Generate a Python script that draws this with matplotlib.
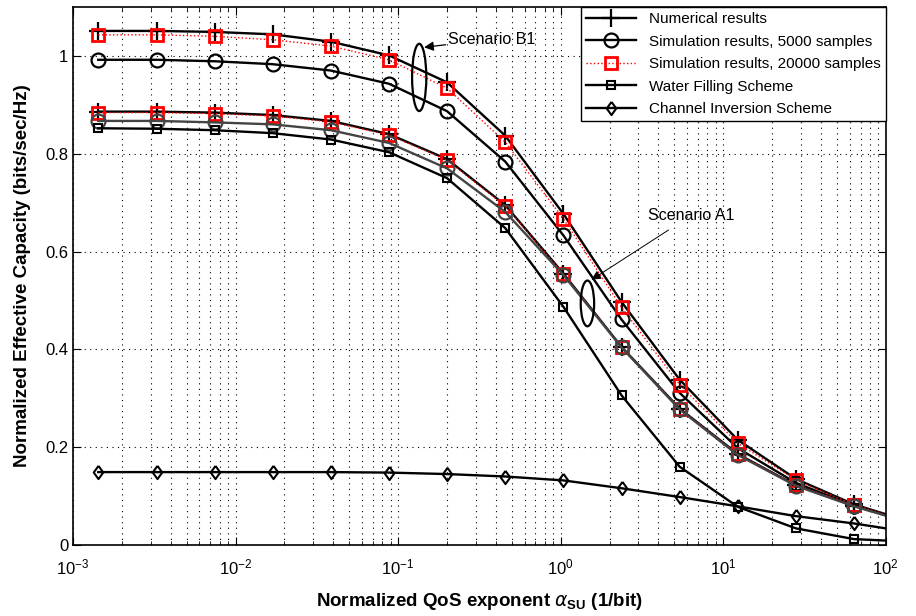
import numpy as np
import matplotlib
matplotlib.use("Agg")
import matplotlib.pyplot as plt
from matplotlib.patches import Ellipse
from matplotlib.ticker import LogLocator, NullFormatter, FixedLocator

plt.rcParams['font.family'] = ['Liberation Sans', 'DejaVu Sans']
plt.rcParams['mathtext.fontset'] = 'custom'
plt.rcParams['mathtext.rm'] = 'Liberation Sans'
plt.rcParams['mathtext.bf'] = 'Liberation Sans:bold'

# QoS exponent values (markers) + end point at 100
alpha = [0.00143, 0.00327, 0.00743, 0.0169, 0.0386, 0.0879, 0.200,
         0.456, 1.04, 2.37, 5.40, 12.3, 28.0, 63.8, 100.0]

b1_num = [1.051, 1.051, 1.049, 1.044, 1.029, 1.001, 0.946, 0.837,
          0.677, 0.497, 0.338, 0.215, 0.135, 0.083, 0.063]
b1_5000 = [0.992, 0.992, 0.989, 0.983, 0.970, 0.943, 0.887, 0.784,
           0.633, 0.461, 0.311, 0.198, 0.127, 0.080, 0.062]
b1_20000 = [1.043, 1.043, 1.040, 1.033, 1.020, 0.992, 0.934, 0.824,
            0.667, 0.486, 0.328, 0.208, 0.133, 0.082, 0.063]
a1_num = [0.886, 0.886, 0.884, 0.879, 0.867, 0.840, 0.789, 0.695,
          0.555, 0.405, 0.279, 0.186, 0.122, 0.080, 0.061]
a1_20000 = [0.884, 0.884, 0.882, 0.877, 0.865, 0.838, 0.787, 0.693,
            0.554, 0.405, 0.279, 0.186, 0.123, 0.081, 0.061]
a1_5000 = [0.867, 0.867, 0.864, 0.860, 0.848, 0.822, 0.770, 0.681,
           0.552, 0.404, 0.277, 0.184, 0.121, 0.079, 0.060]
water_filling = [0.852, 0.851, 0.848, 0.842, 0.829, 0.803, 0.750, 0.648,
                 0.487, 0.306, 0.160, 0.078, 0.034, 0.012, 0.009]
channel_inv = [0.149, 0.149, 0.149, 0.149, 0.149, 0.148, 0.145, 0.140,
               0.132, 0.116, 0.098, 0.079, 0.059, 0.044, 0.034]

mk = list(range(14))
lw = 1.7
diamond = [(0, 1), (0.72, 0), (0, -1), (-0.72, 0), (0, 1)]

fig = plt.figure(figsize=(9.16, 6.16), dpi=100)
ax = fig.add_axes([0.0797, 0.1153, 0.8872, 0.8734])

# Scenario B1
h_num, = ax.plot(alpha, b1_num, color='k', lw=lw, marker='+', ms=13, mew=1.6,
                 markevery=mk, label='Numerical results')
h_5000, = ax.plot(alpha, b1_5000, color='k', lw=lw, marker='o', ms=10, mew=1.6,
                  mfc='none', markevery=mk, label='Simulation results, 5000 samples')
h_20000, = ax.plot(alpha, b1_20000, color='r', lw=1.0, ls=':', marker='s', ms=8,
                   mew=2.0, mfc='none', markevery=mk,
                   label='Simulation results, 20000 samples')
# Scenario A1
ax.plot(alpha, a1_num, color='k', lw=lw, marker='+', ms=13, mew=1.6, markevery=mk)
ax.plot(alpha, a1_20000, color='r', lw=1.0, ls=':', marker='s', ms=8, mew=2.0,
        mfc='none', markevery=mk)
ax.plot(alpha, a1_5000, color='#444444', lw=lw, marker='o', ms=10, mew=1.6,
        mfc='none', markevery=mk)
# Reference schemes
h_wf, = ax.plot(alpha, water_filling, color='k', lw=lw, marker='s', ms=5.5, mew=1.5,
                mfc='none', markevery=mk, label='Water Filling Scheme')
h_ci, = ax.plot(alpha, channel_inv, color='k', lw=lw, marker=diamond, ms=9.5, mew=1.5,
                mfc='none', markevery=mk, label='Channel Inversion Scheme')

ax.set_xscale('log')
ax.set_xlim(1e-3, 1e2)
ax.set_ylim(0, 1.1)
ax.yaxis.set_major_locator(FixedLocator([0, 0.2, 0.4, 0.6, 0.8, 1.0]))
ax.set_yticklabels(['0', '0.2', '0.4', '0.6', '0.8', '1'])
ax.xaxis.set_minor_locator(LogLocator(base=10, subs=np.arange(2, 10)))
ax.xaxis.set_minor_formatter(NullFormatter())
ax.tick_params(which='both', direction='in', top=True, right=True, labelsize=12)
ax.tick_params(axis='x', which='major', pad=9)
ax.tick_params(which='major', length=6)
ax.tick_params(which='minor', length=3)
ax.grid(which='major', ls=(0, (1, 4)), color='k', lw=0.8)
ax.grid(which='minor', axis='x', ls=(0, (1, 4)), color='k', lw=0.8)
for s in ax.spines.values():
    s.set_linewidth(1.2)

ax.set_xlabel(r'Normalized QoS exponent $\alpha_{\mathbf{SU}}$ (1/bit)',
              fontsize=13.5, fontweight='bold', labelpad=10)
ax.set_ylabel('Normalized Effective Capacity (bits/sec/Hz)', fontsize=13.5,
              fontweight='bold', labelpad=10)

# ellipses + annotations
ax.add_patch(Ellipse((0.426, 0.869), 0.0175, 0.125, transform=ax.transAxes,
                     fill=False, ec='k', lw=1.6, zorder=5))
ax.add_patch(Ellipse((0.633, 0.449), 0.0165, 0.085, transform=ax.transAxes,
                     fill=False, ec='k', lw=1.6, zorder=5))
ax.annotate('Scenario B1', xy=(0.432, 0.925), xycoords='axes fraction',
            xytext=(0.462, 0.94), textcoords='axes fraction', fontsize=11.5,
            va='center', ha='left',
            arrowprops=dict(arrowstyle='-|>', color='k', lw=0.9, shrinkA=0, shrinkB=0,
                            mutation_scale=14))
ax.annotate('Scenario A1', xy=(0.638, 0.493), xycoords='axes fraction',
            xytext=(0.708, 0.613), textcoords='axes fraction', fontsize=11.5,
            va='center', ha='left',
            arrowprops=dict(arrowstyle='-|>', color='k', lw=0.7, shrinkA=6, shrinkB=0,
                            mutation_scale=14))

leg = ax.legend(handles=[h_num, h_5000, h_20000, h_wf, h_ci], loc='upper right',
                fontsize=11, frameon=True, fancybox=False, framealpha=1,
                edgecolor='k', handlelength=3.3, borderaxespad=0.0,
                labelspacing=0.55, borderpad=0.35)
leg.get_frame().set_linewidth(1.0)

fig.savefig('out.png', dpi=100)
